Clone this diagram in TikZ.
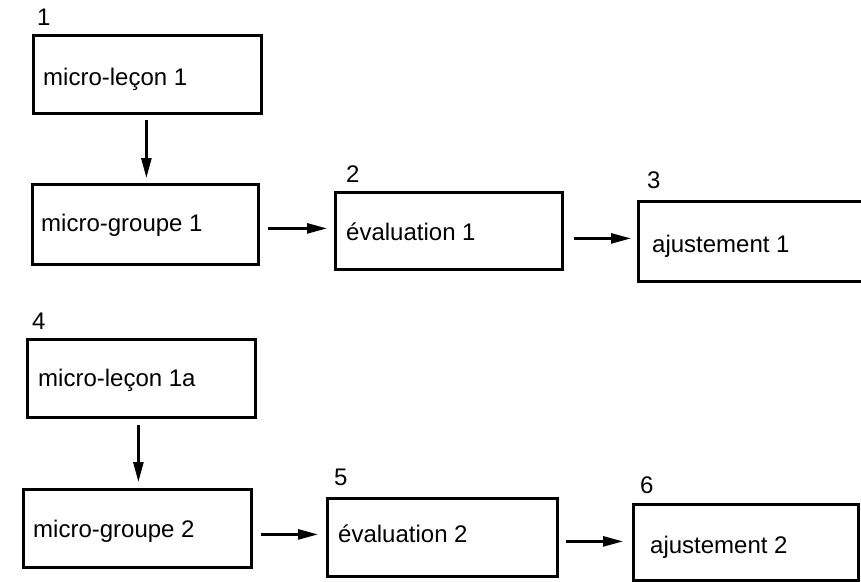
\documentclass[tikz,border=0pt]{standalone}
\usepackage{fontspec}
\setmainfont{Liberation Sans}
\usetikzlibrary{arrows.meta,calc}
\tikzset{
  box/.style={draw=black, line width=2.8pt, inner sep=0pt, anchor=north west},
  txt/.style={anchor=base west, inner sep=0pt, font=\fontsize{24}{28}\selectfont},
  arr/.style={line width=2.6pt, -{Triangle[length=20pt,width=10pt]}}
}
\begin{document}
\begin{tikzpicture}[x=1pt,y=-1pt]
\useasboundingbox (0,0) rectangle (861,581);
\clip (0,0) rectangle (861,581);
% boxes
\node[box, minimum width=228pt, minimum height=78pt] (A) at (32,34) {};
\node[box, minimum width=226pt, minimum height=80pt] (B) at (31,183) {};
\node[box, minimum width=227pt, minimum height=77pt] (C) at (334,191) {};
\node[box, minimum width=240pt, minimum height=80pt] (D) at (637,200) {};
\node[box, minimum width=228pt, minimum height=78pt] (E) at (26,338) {};
\node[box, minimum width=228pt, minimum height=78pt] (F) at (22,488) {};
\node[box, minimum width=230pt, minimum height=78pt] (G) at (326,497) {};
\node[box, minimum width=225pt, minimum height=76pt] (H) at (632,503) {};
% texts in boxes
\node[txt] (tA) at (43,85) {micro-leçon 1};
\node[txt] (tB) at (41,231) {micro-groupe 1};
\node[txt] (tC) at (346,240) {évaluation 1};
\node[txt] (tD) at (652,252) {ajustement 1};
\node[txt] (tE) at (38,386) {micro-leçon 1a};
\node[txt] (tF) at (33,537) {micro-groupe 2};
\node[txt] (tG) at (338,542) {évaluation 2};
\node[txt] (tH) at (650,553) {ajustement 2};
% numbers
\node[txt] (n1) at (37,25) {1};
\node[txt] (n2) at (346,182) {2};
\node[txt] (n3) at (647,188) {3};
\node[txt] (n4) at (32,329) {4};
\node[txt] (n5) at (334,485) {5};
\node[txt] (n6) at (640,493) {6};
% arrows
\draw[arr, shorten <=5pt, shorten >=5pt] ([xshift=-1pt]A.south) -- ([xshift=-1pt]A.south |- B.north);
\draw[arr, shorten <=6pt, shorten >=6pt] ([xshift=-3pt]E.south) -- ([xshift=-3pt]E.south |- F.north);
\draw[arr, shorten <=8pt, shorten >=7pt] ([yshift=-4pt]B.east) -- ([yshift=-4pt]B.east -| C.west);
\draw[arr, shorten <=10pt, shorten >=6pt] ([yshift=-7.5pt]C.east) -- ([yshift=-7.5pt]C.east -| D.west);
\draw[arr, shorten <=8pt, shorten >=8pt] ([yshift=-6pt]F.east) -- ([yshift=-6pt]F.east -| G.west);
\draw[arr, shorten <=7pt, shorten >=9pt] ([yshift=-4pt]G.east) -- ([yshift=-4pt]G.east -| H.west);
\end{tikzpicture}
\end{document}
